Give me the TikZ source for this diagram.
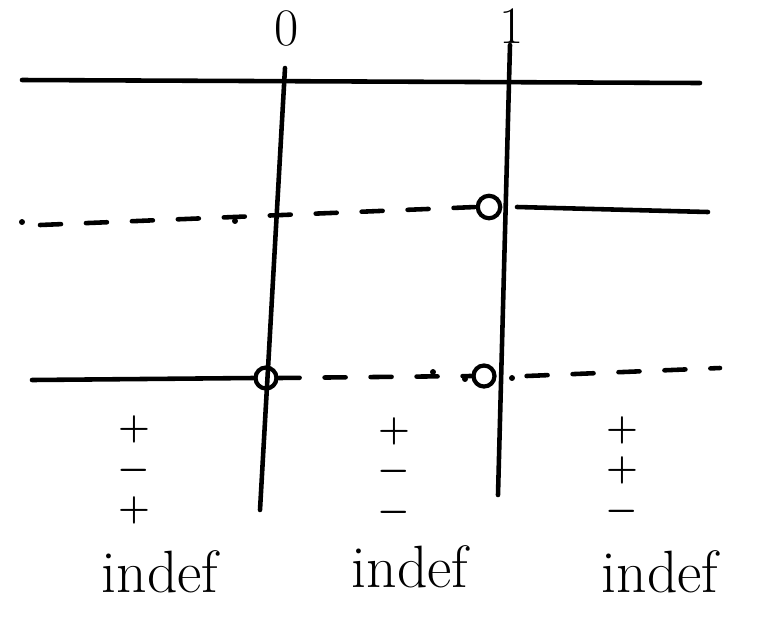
\documentclass[tikz,border=0pt]{standalone}
\begin{document}
\begin{tikzpicture}[x=0.02cm,y=-0.02cm,
  ink/.style={line width=2.6pt,line cap=round,line join=round},
  dash line/.style={ink,dash pattern=on 0.42cm off 0.5cm},
  hole/.style={circle,draw,line width=2.4pt,minimum size=0.42cm,inner sep=0pt,fill=white},
  dot/.style={circle,fill,inner sep=1.2pt},
  signs/.style={font=\fontsize{22}{20}\selectfont\boldmath,inner sep=0pt,align=center},
  word/.style={font=\fontsize{34}{38}\selectfont,inner sep=0pt},
  label/.style={font=\fontsize{30}{32}\selectfont,inner sep=0pt}]
\useasboundingbox (0,0) rectangle (765,630);
% axis labels
\node[label] (l0) at (287,28) {0};
\node[label] (l1) at (512,26) {1};
% vertical lines
\coordinate (v0t) at (285,68);
\coordinate (v0b) at (260,510);
\coordinate (v1t) at (510,45);
\coordinate (v1b) at (498,495);
% top line
\coordinate (h1a) at (22,80);
\coordinate (h1b) at (700,83);
\draw[ink] (h1a) -- (h1b);
% middle line
\node[hole,minimum width=0.3cm,minimum height=0.45cm] (c1) at (489,207) {};
\coordinate (h2a) at (40,225);
\coordinate (h2b) at (708,212);
\coordinate (h2m) at (517,207);
\draw[dash line] (h2a) -- (c1.west);
\draw[ink] (h2m) -- (h2b);
\node[dot] (d1) at (22,222) {};
\node[dot] (d2) at (235,221) {};
% bottom line
\node[hole] (c2) at (266,378) {};
\node[hole] (c3) at (484,376) {};
\coordinate (h3a) at (32,380);
\coordinate (h3b) at (720,368);
\draw[ink] (h3a) -- (c2.west);
\draw[dash line] (c2.east) -- (c3.west);
\draw[dash line] ([xshift=0.6cm]c3.east) -- (h3b);
\node[dot] (d3) at (433,372) {};
\node[dot] (d4) at (465,379) {};
\node[dot] (d5) at (512,378) {};
\draw[ink] (v0t) -- (v0b);
\draw[ink] (v1t) -- (v1b);
% signs
\node[signs] (s1) at (134,470) {$+$\\[3pt]$-$\\[3pt]$+$};
\node[signs] (s2) at (394,472) {$+$\\[3pt]$-$\\[3pt]$-$};
\node[signs] (s3) at (622,471) {$+$\\[3pt]$+$\\[3pt]$-$};
% words
\node[word] (w1) at (160,572) {indef};
\node[word] (w2) at (410,567) {indef};
\node[word] (w3) at (660,572) {indef};
\end{tikzpicture}
\end{document}
